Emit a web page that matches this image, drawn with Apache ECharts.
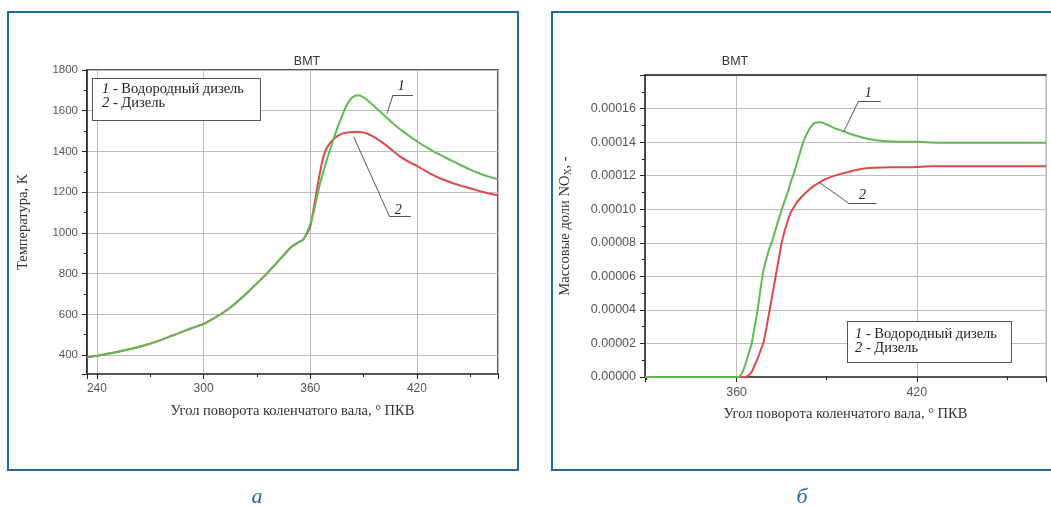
<!DOCTYPE html>
<html>
<head>
<meta charset="utf-8">
<script src="https://cdn.jsdelivr.net/npm/echarts@6/dist/echarts.min.js"></script>
<style>
html,body{margin:0;padding:0;background:#fff;}
#c{width:1051px;height:507px;}
</style>
</head>
<body>
<div id="c"></div>
<script>
// ---------- DATA ----------
// (a) Temperature, K vs crank angle
const tempAngles = [234.4, 240, 245, 250, 255, 260, 265, 270, 275, 280, 285, 290, 295, 300, 305, 310, 316, 320, 325, 330, 335, 340, 345, 349, 353, 356, 358, 360, 362, 363.5, 365, 367, 369, 371, 373, 375, 377, 379, 381, 383, 385, 387, 389, 392, 396, 400, 405, 410, 416, 420, 425, 430, 435, 440, 445, 450, 455, 460, 465.6];
const tempHydrogen = [389, 396, 405, 413, 422, 432, 443, 456, 471, 488, 504, 521, 537, 553, 577, 603, 640, 670, 710, 752, 795, 842, 890, 928, 952, 967, 1000, 1045, 1105, 1165, 1225, 1290, 1350, 1405, 1458, 1510, 1555, 1598, 1635, 1660, 1673, 1676, 1670, 1653, 1622, 1590, 1550, 1513, 1474, 1450, 1422, 1397, 1375, 1352, 1331, 1311, 1293, 1277, 1263];
const tempDiesel = [389, 396, 405, 413, 422, 432, 443, 456, 471, 488, 504, 521, 537, 553, 577, 603, 640, 670, 710, 752, 795, 842, 890, 928, 952, 967, 995, 1030, 1125, 1200, 1275, 1362, 1412, 1440, 1460, 1474, 1484, 1490, 1493, 1494, 1495, 1495, 1494, 1488, 1470, 1447, 1414, 1378, 1346, 1329, 1303, 1280, 1261, 1245, 1231, 1219, 1206, 1195, 1184];

// (б) NOx mass fraction vs crank angle
const noxAngles = [329.5, 340, 350, 358, 360, 361, 362, 363, 364, 365, 366, 367, 368, 369, 370, 371, 372, 373, 374, 375, 376, 377, 378, 379, 380, 382, 384, 386, 388, 390, 392, 395, 398, 401, 404, 408, 412, 416, 420, 425, 430, 440, 450, 463];
const noxHydrogen = [0, 0, 0, 0, 0, 0.0000005, 0.000003, 0.000008, 0.000014, 0.00002, 0.00003, 0.00004, 0.000053, 0.000064, 0.000071, 0.000077, 0.000082, 0.000088, 0.000094, 0.0000995, 0.000105, 0.00011, 0.000116, 0.000121, 0.000127, 0.000139, 0.000147, 0.0001515, 0.0001518, 0.0001505, 0.0001488, 0.0001468, 0.0001448, 0.0001432, 0.0001418, 0.0001408, 0.0001403, 0.0001402, 0.0001402, 0.0001397, 0.0001396, 0.0001396, 0.0001396, 0.0001396];
const noxDiesel = [0, 0, 0, 0, 0, 0, 0, 0, 0.000001, 0.000003, 0.000007, 0.000011, 0.000016, 0.000021, 0.00003, 0.00004, 0.00005, 0.00006, 0.00007, 0.00008, 0.000087, 0.000093, 0.000098, 0.000101, 0.000104, 0.000108, 0.0001115, 0.0001142, 0.0001165, 0.0001182, 0.0001196, 0.0001212, 0.0001226, 0.0001238, 0.0001245, 0.0001249, 0.000125, 0.000125, 0.0001252, 0.0001256, 0.0001256, 0.0001256, 0.0001256, 0.0001256];

// Text
const seriesNames = ['Водородный дизель', 'Дизель'];
const tdcLabel = 'ВМТ';
const xTitle = 'Угол поворота коленчатого вала, ° ПКВ';
const yTitleA = 'Температура, K';
const panelCaptions = ['а', 'б'];

// ---------- STYLE ----------
const GREEN = '#63b955';
const RED = '#dc4a4a';
const BLUE = '#1f6d9d';
const SANS = 'Liberation Sans';
const SERIF = 'Liberation Serif';

function pairs(xs, ys) { return xs.map((x, i) => [x, ys[i]]); }

const axisCommon = {
  type: 'value',
  axisLine: { show: true, onZero: false, lineStyle: { color: '#222', width: 1.5 } },
  axisTick: { show: true, inside: false, length: 5, lineStyle: { color: '#222', width: 1 } },
  minorTick: { show: true, splitNumber: 2, length: 3, lineStyle: { color: '#222', width: 1 } },
  splitLine: { show: true, lineStyle: { color: '#bdbdbd', width: 1 } },
  axisLabel: { color: '#555', fontFamily: SANS, fontSize: 11.5, margin: 9, showMinLabel: false, showMaxLabel: false },
  nameTextStyle: { color: '#333', fontFamily: SERIF, fontSize: 14.5 }
};

function ax(extra) {
  const o = JSON.parse(JSON.stringify(axisCommon));
  for (const k in extra) {
    if (typeof extra[k] === 'object' && extra[k] !== null && !Array.isArray(extra[k]) && o[k]) Object.assign(o[k], extra[k]);
    else o[k] = extra[k];
  }
  return o;
}

const leaderStyle = { color: '#555', width: 1, type: 'solid' };
function numLabel(t) {
  return { show: true, position: 'inside', formatter: t, color: '#222', fontStyle: 'italic', fontFamily: SERIF, fontSize: 14 };
}
function seg(a, b) { return [{ coord: a }, { coord: b }]; }

const chart = echarts.init(document.getElementById('c'), null, { renderer: 'canvas', width: 1051, height: 507 });

const legendStyle = (pad) => ({
  text: '{i|1} - ' + seriesNames[0] + '\n{i|2} - ' + seriesNames[1],
  font: '14.5px "Liberation Serif"', fill: '#222', lineHeight: 14,
  backgroundColor: '#fff', borderColor: '#555', borderWidth: 1, padding: pad,
  rich: { i: { font: 'italic 14.5px "Liberation Serif"', fill: '#222', lineHeight: 14 } }
});

const option = {
  animation: false,
  backgroundColor: '#fff',
  grid: [
    { left: 87, top: 70, width: 411, height: 304, show: true, borderColor: '#222', borderWidth: 1.5, containLabel: false },
    { left: 645, top: 75, width: 401, height: 302, show: true, borderColor: '#aaa', borderWidth: 1, containLabel: false }
  ],
  xAxis: [
    ax({ gridIndex: 0, min: 234.4, max: 465.6, minInterval: 60, maxInterval: 60,
         axisLine: { lineStyle: { width: 2 } },
         axisLabel: { fontSize: 12, formatter: v => String(v) },
         name: xTitle, nameLocation: 'middle', nameGap: 30 }),
    ax({ gridIndex: 1, min: 329.5, max: 463, minInterval: 60, maxInterval: 60,
         axisLine: { lineStyle: { width: 2 } },
         axisLabel: { fontSize: 12.5, formatter: v => String(v) },
         name: xTitle, nameLocation: 'middle', nameGap: 30 }),
    { gridIndex: 1, type: 'value', position: 'top', min: 329.5, max: 463,
      axisLine: { show: true, onZero: false, lineStyle: { color: '#222', width: 1.5 } },
      axisTick: { show: false }, axisLabel: { show: false }, splitLine: { show: false } }
  ],
  yAxis: [
    ax({ gridIndex: 0, min: 307, max: 1800, minInterval: 200, maxInterval: 200,
         axisLabel: { showMaxLabel: true, formatter: v => String(v) },
         name: yTitleA, nameLocation: 'middle', nameGap: 56, nameRotate: 90 }),
    ax({ gridIndex: 1, min: 0, max: 0.00018, interval: 0.00002,
         axisLabel: { fontSize: 12.5, showMinLabel: true, formatter: v => v.toFixed(5) },
         name: 'Массовые доли NO{s|X}, -', nameLocation: 'middle', nameGap: 72, nameRotate: 90,
         nameTextStyle: { rich: { s: { fontFamily: SERIF, fontSize: 10, color: '#333', verticalAlign: 'bottom', padding: [5, 0, 0, 0] } } } })
  ],
  series: [
    { name: seriesNames[1], type: 'line', xAxisIndex: 0, yAxisIndex: 0, data: pairs(tempAngles, tempDiesel),
      showSymbol: false, smooth: 0.2, lineStyle: { color: RED, width: 2 }, itemStyle: { color: RED }, z: 3,
      markLine: { silent: true, symbol: ['none', 'none'], label: { show: false }, lineStyle: leaderStyle,
        data: [ seg([384.4, 1472], [404.6, 1080]), seg([404.6, 1080], [416.6, 1080]) ] },
      markPoint: { silent: true, symbol: 'rect', symbolSize: 1, itemStyle: { color: 'rgba(0,0,0,0)' },
        data: [ { coord: [409.5, 1112], label: numLabel('2') } ] } },
    { name: seriesNames[0], type: 'line', xAxisIndex: 0, yAxisIndex: 0, data: pairs(tempAngles, tempHydrogen),
      showSymbol: false, smooth: 0.2, lineStyle: { color: GREEN, width: 2 }, itemStyle: { color: GREEN }, z: 4,
      markLine: { silent: true, symbol: ['none', 'none'], label: { show: false }, lineStyle: leaderStyle,
        data: [ seg([403.2, 1587], [406.5, 1677]), seg([406.5, 1677], [417.8, 1677]) ] },
      markPoint: { silent: true, symbol: 'rect', symbolSize: 1, itemStyle: { color: 'rgba(0,0,0,0)' },
        data: [ { coord: [411.2, 1718], label: numLabel('1') } ] } },
    { name: seriesNames[1], type: 'line', xAxisIndex: 1, yAxisIndex: 1, data: pairs(noxAngles, noxDiesel),
      showSymbol: false, smooth: 0.2, lineStyle: { color: RED, width: 2 }, itemStyle: { color: RED }, z: 3,
      markLine: { silent: true, symbol: ['none', 'none'], label: { show: false }, lineStyle: leaderStyle,
        data: [ seg([387.5, 0.000116], [397.2, 0.0001037]), seg([397.2, 0.0001037], [406.6, 0.0001037]) ] },
      markPoint: { silent: true, symbol: 'rect', symbolSize: 1, itemStyle: { color: 'rgba(0,0,0,0)' },
        data: [ { coord: [401.9, 0.000108], label: numLabel('2') } ] } },
    { name: seriesNames[0], type: 'line', xAxisIndex: 1, yAxisIndex: 1, data: pairs(noxAngles, noxHydrogen),
      showSymbol: false, smooth: 0.2, lineStyle: { color: GREEN, width: 2 }, itemStyle: { color: GREEN }, z: 4,
      markLine: { silent: true, symbol: ['none', 'none'], label: { show: false }, lineStyle: leaderStyle,
        data: [ seg([395.7, 0.0001464], [400.6, 0.0001644]), seg([400.6, 0.0001644], [408.0, 0.0001644]) ] },
      markPoint: { silent: true, symbol: 'rect', symbolSize: 1, itemStyle: { color: 'rgba(0,0,0,0)' },
        data: [ { coord: [403.8, 0.0001688], label: numLabel('1') } ] } }
  ],
  graphic: [
    // panel frames
    { type: 'rect', shape: { x: 8, y: 12, width: 510, height: 458 }, style: { fill: 'none', stroke: BLUE, lineWidth: 2 }, silent: true, z: -1 },
    { type: 'rect', shape: { x: 552, y: 12, width: 520, height: 458 }, style: { fill: 'none', stroke: BLUE, lineWidth: 2 }, silent: true, z: -1 },
    // TDC titles
    { type: 'text', x: 307, y: 62, style: { text: tdcLabel, font: '12.5px "Liberation Sans"', fill: '#333', align: 'center', verticalAlign: 'middle' }, silent: true },
    { type: 'text', x: 735, y: 62, style: { text: tdcLabel, font: '12.5px "Liberation Sans"', fill: '#333', align: 'center', verticalAlign: 'middle' }, silent: true },
    // legends
    { type: 'text', x: 93, y: 79, z: 10, silent: true, style: legendStyle([3, 16, 10, 9]) },
    { type: 'text', x: 848, y: 322, z: 10, silent: true, style: legendStyle([5, 14, 7, 7]) },
    // panel captions
    { type: 'text', x: 257, y: 497, style: { text: panelCaptions[0], font: 'italic 22px "Liberation Serif"', fill: BLUE, align: 'center', verticalAlign: 'middle' }, silent: true },
    { type: 'text', x: 802, y: 497, style: { text: panelCaptions[1], font: 'italic 22px "Liberation Serif"', fill: BLUE, align: 'center', verticalAlign: 'middle' }, silent: true }
  ]
};

chart.setOption(option);
</script>
</body>
</html>
